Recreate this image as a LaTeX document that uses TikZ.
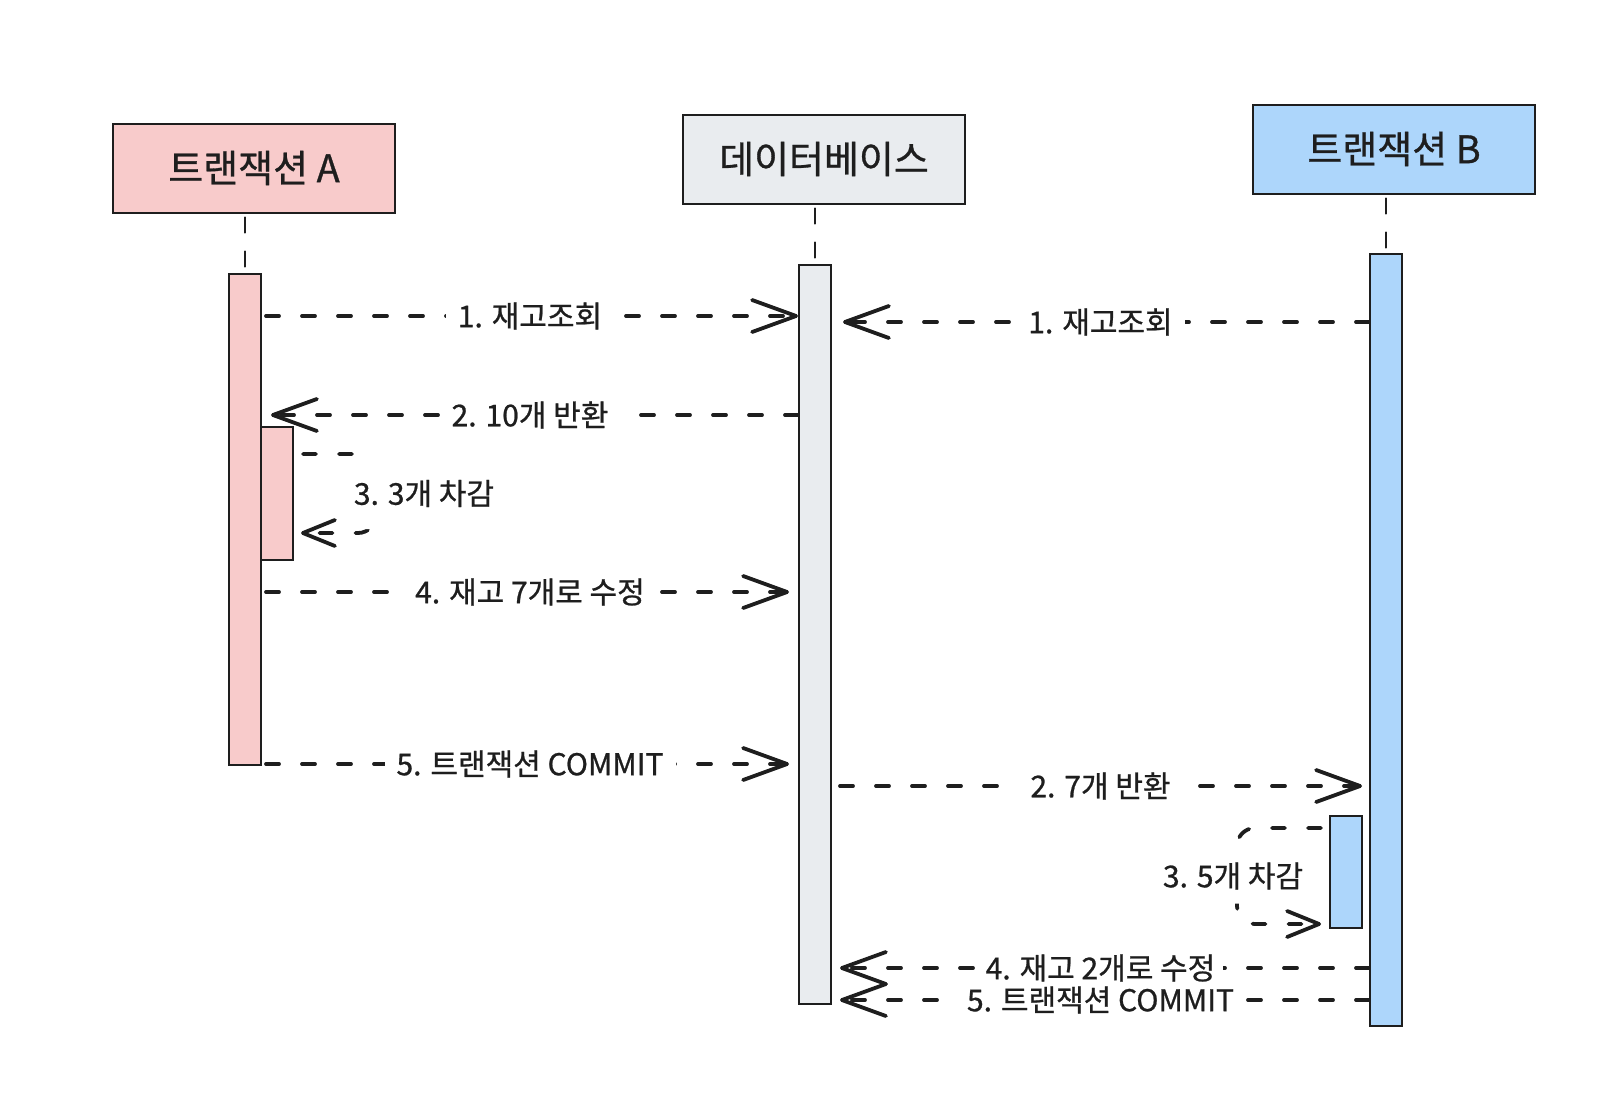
\documentclass[tikz,border=0pt]{standalone}
\usepackage{fontspec}
\setmainfont{Noto Sans CJK KR}[FakeBold=0.8]
\usepackage{xcolor}
\usepackage{tikz}
\usetikzlibrary{arrows.meta}

\definecolor{txapink}{HTML}{F8CBCB}
\definecolor{dbgrey}{HTML}{E9ECEF}
\definecolor{txbblue}{HTML}{ADD6FB}
\definecolor{ink}{HTML}{1E1E1E}

\begin{document}
\begin{tikzpicture}[x=1pt, y=-1pt, >={Straight Barb[length=44pt, width=32pt, round]},
    every node/.style={font=\fontsize{30}{34}\selectfont, text=ink},
    head/.style={rectangle, draw=ink, line width=2pt, minimum width=282pt, minimum height=89pt, font=\fontsize{38}{44}\selectfont},
    bar/.style={rectangle, draw=ink, line width=2pt, minimum width=32pt, inner sep=0pt},
    life/.style={draw=ink, line width=2.5pt, line cap=round, dash pattern=on 15pt off 19pt},
    msg/.style={draw=ink, line width=3.8pt, line cap=round, dash pattern=on 13pt off 23pt},
    selfmsg/.style={msg, rounded corners=18pt, -{Straight Barb[length=32pt, width=26pt, round]}},
    lbl/.style={fill=white, inner xsep=12pt, inner ysep=4pt},
]
\useasboundingbox (0,0) rectangle (1614,1114);

% Headers
\node[head, fill=txapink] (txa) at (254,168) {트랜잭션 A};
\node[head, fill=dbgrey] (db) at (824,159) {데이터베이스};
\node[head, fill=txbblue] (txb) at (1394,149) {트랜잭션 B};

% Activation bars
\node[bar, fill=txapink, minimum height=491pt] (act_a) at (245,519) {};
\node[bar, fill=txapink, minimum height=133pt] (sub_a) at (277,493) {};
\node[bar, fill=dbgrey, minimum height=739pt] (act_db) at (815,634) {};
\node[bar, fill=txbblue, minimum height=772pt] (act_b) at (1386,640) {};
\node[bar, fill=txbblue, minimum height=112pt] (sub_b) at (1346,872) {};

% Lifelines
\draw[life, shorten <=4pt, shorten >=3pt] (txa.south -| act_a.north) -- (act_a.north);
\draw[life, shorten <=4pt, shorten >=3pt] (db.south -| act_db.north) -- (act_db.north);
\draw[life, shorten <=4pt, shorten >=3pt] (txb.south -| act_b.north) -- (act_b.north);

% Message rows
\foreach \n/\y in {m1a/316, m1b/322, m2a/415, m3a/454, m4a/592, m5a/764, m2b/786, m3b/828, m4b/968, m5b/1000}
    \coordinate (\n) at (0,\y);

% Transaction A
\draw[msg, ->, shorten <=4pt] (act_a.east |- m1a) -- node[lbl] {1. 재고조회} (act_db.west |- m1a);
\draw[msg, ->, shorten >=9pt] (act_db.west |- m2a) -- node[lbl] {2. 10개 반환} (act_a.east |- m2a);
\draw[selfmsg, shorten <=9pt, shorten >=7pt] (sub_a.east |- m3a) -- ++(82,0)
    -- node[lbl, xshift=48pt, inner ysep=22pt] {3. 3개 차감} ++(0,79) -- ++(-82,0);
\draw[msg, ->, shorten <=4pt, shorten >=9pt] (act_a.east |- m4a) -- node[lbl, inner xsep=8pt] {4. 재고 7개로 수정} (act_db.west |- m4a);
\draw[msg, ->, shorten <=4pt, shorten >=9pt] (act_a.east |- m5a) -- node[lbl] {5. 트랜잭션 COMMIT} (act_db.west |- m5a);

% Transaction B
\draw[msg, ->, shorten >=11pt] (act_b.west |- m1b) -- node[lbl] {1. 재고조회} (act_db.east |- m1b);
\draw[msg, ->, shorten <=8pt, shorten >=7pt] (act_db.east |- m2b) -- node[lbl] {2. 7개 반환} (act_b.west |- m2b);
\draw[selfmsg, shorten <=8pt, shorten >=8pt] (sub_b.west |- m3b) -- ++(-92,0)
    -- node[lbl, xshift=-4pt, inner ysep=14pt] {3. 5개 차감} ++(0,96) -- ++(92,0);
\draw[msg, ->, shorten >=8pt] (act_b.west |- m4b) -- node[lbl, inner xsep=8pt] {4. 재고 2개로 수정} (act_db.east |- m4b);
\draw[msg, ->, shorten >=8pt] (act_b.west |- m5b) -- node[lbl] {5. 트랜잭션 COMMIT} (act_db.east |- m5b);

\end{tikzpicture}
\end{document}
